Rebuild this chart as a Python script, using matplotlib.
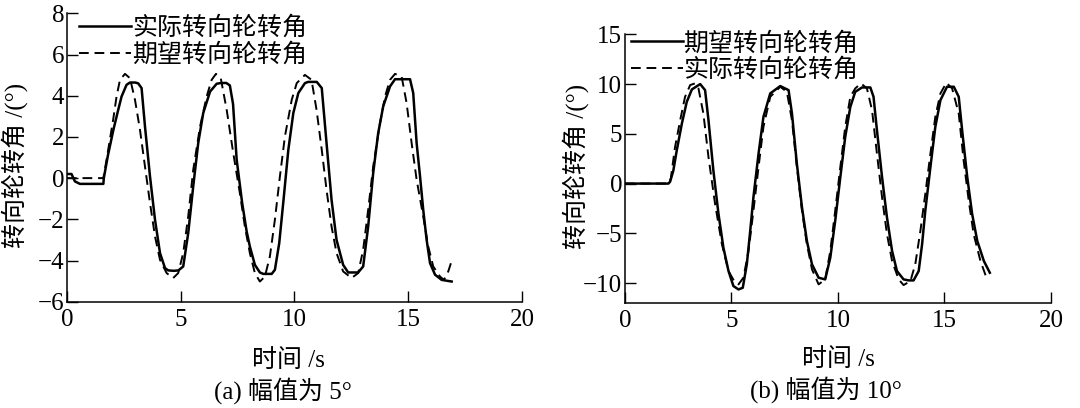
"""
Steering wheel angle tracking: actual vs desired, amplitude 5 deg and 10 deg.
"""

import matplotlib
matplotlib.use("Agg")
import matplotlib.pyplot as plt

plt.rcParams['font.family'] = ['Liberation Serif', 'Noto Sans CJK SC']
plt.rcParams['axes.unicode_minus'] = True

# ---- (a) amplitude 5 deg ----
t_a_actual = [0, 0.2, 0.35, 0.57, 1.0, 1.6, 1.62, 1.8, 2.04, 2.25, 2.4, 2.62, 2.77, 3.0, 3.13,
              3.28, 3.43, 3.65, 3.87, 4.09, 4.31, 4.45, 4.7, 4.9, 5.11, 5.33, 5.55, 5.77, 5.99,
              6.29, 6.58, 6.73, 7.0, 7.16, 7.3, 7.46, 7.7, 7.9, 8.04, 8.26, 8.48, 8.63, 9.0,
              9.14, 9.33, 9.52, 9.73, 9.95, 10.17, 10.46, 10.6, 10.98, 11.2, 11.41, 11.63,
              11.85, 12.14, 12.36, 12.8, 13.02, 13.24, 13.46, 13.68, 13.9, 14.2, 14.42, 15.08,
              15.22, 15.37, 15.52, 15.66, 15.81, 15.96, 16.18, 16.47, 16.91]
y_a_actual = [0.2, 0.2, -0.16, -0.28, -0.28, -0.28, 0.0, 1.1, 2.34, 3.3, 3.96, 4.53, 4.64, 4.64,
              4.6, 4.37, 2.5, 0.08, -2.02, -3.64, -4.37, -4.48, -4.5, -4.48, -4.29, -2.67, -0.4,
              1.7, 3.16, 4.2, 4.58, 4.61, 4.62, 4.5, 3.6, 0.89, -1.2, -2.6, -3.32, -4.21, -4.58,
              -4.65, -4.65, -4.45, -3.16, -1.05, 1.37, 3.16, 4.13, 4.61, 4.67, 4.67, 4.37, 1.7,
              -1.05, -3.0, -4.21, -4.58, -4.58, -4.29, -2.35, 0.24, 2.18, 3.48, 4.45, 4.8, 4.8,
              4.13, 1.7, 0.08, -1.54, -3.0, -4.13, -4.69, -4.94, -5.02]

t_a_desired = [0, 1.6, 1.74, 2.03, 2.18, 2.33, 2.55, 2.77, 2.99, 3.21, 3.43, 3.65, 3.87, 4.09,
               4.38, 4.67, 4.89, 5.11, 5.33, 5.55, 5.85, 6.14, 6.36, 6.55, 6.76, 7.02, 7.31,
               7.6, 7.82, 8.04, 8.26, 8.48, 8.7, 8.92, 9.14, 9.36, 9.58, 9.88, 10.1, 10.46,
               10.75, 10.97, 11.2, 11.41, 11.63, 11.85, 12.14, 12.51, 12.8, 13.02, 13.24, 13.46,
               13.76, 13.98, 14.2, 14.42, 14.71, 14.93, 15.15, 15.37, 15.66, 15.88, 16.1, 16.4,
               16.57, 16.76, 16.95]
y_a_desired = [0, 0, 0.89, 2.83, 3.96, 4.77, 5.06, 4.85, 3.8, 2.34, 0.56, -1.21, -2.83, -3.97,
               -4.61, -4.85, -4.61, -3.64, -1.86, 0.4, 2.5, 3.96, 4.77, 5.06, 4.85, 3.32, 1.21,
               -0.73, -2.35, -3.64, -4.61, -5.02, -4.78, -3.8, -2.02, 0.08, 2.02, 3.8, 4.61,
               5.01, 4.77, 3.32, 1.37, -0.57, -2.35, -3.64, -4.53, -4.85, -4.61, -3.48, -1.54,
               0.56, 2.67, 3.96, 4.77, 5.06, 4.93, 3.64, 1.7, -0.08, -1.86, -3.32, -4.29, -4.78,
               -4.94, -4.53, -3.88]

# ---- (b) amplitude 10 deg ----
t_b_desired = [0, 2.04, 2.12, 2.27, 2.43, 2.67, 2.9, 3.14, 3.53, 3.76, 3.92, 4.15, 4.39, 4.62,
               4.86, 5.09, 5.33, 5.53, 5.72, 5.88, 6.03, 6.27, 6.5, 6.82, 7.29, 7.68, 7.84, 8.07,
               8.31, 8.54, 8.78, 9.09, 9.4, 9.64, 9.87, 10.11, 10.34, 10.58, 10.81, 11.13, 11.52,
               11.67, 11.83, 12.07, 12.3, 12.54, 12.77, 13.08, 13.32, 13.55, 13.79, 13.95, 14.1,
               14.34, 14.57, 14.81, 15.12, 15.44, 15.67, 15.83, 16.07, 16.3, 16.54, 16.85, 17.13]
y_b_desired = [0, 0, 0.2, 1.31, 3.33, 6.03, 8.21, 9.46, 10.0, 9.39, 6.36, 1.31, -3.06, -6.43,
               -8.79, -10.3, -10.64, -10.47, -8.11, -4.75, -1.38, 3.0, 6.7, 9.06, 9.8, 9.39, 7.04,
               1.99, -2.39, -5.76, -8.11, -9.46, -9.63, -7.44, -3.74, 0.64, 4.68, 7.71, 9.22,
               9.66, 9.66, 8.72, 5.35, 0.64, -3.4, -6.77, -8.79, -9.63, -9.73, -9.73, -8.79,
               -6.09, -2.73, 1.65, 5.69, 8.38, 9.73, 9.73, 8.72, 5.35, 0.64, -3.06, -5.76, -7.78,
               -8.96]

t_b_actual = [0, 2.04, 2.15, 2.35, 2.59, 2.82, 3.06, 3.29, 3.45, 3.68, 3.92, 4.23, 4.55, 4.86,
              5.17, 5.33, 5.56, 5.8, 6.03, 6.27, 6.5, 6.82, 7.29, 7.6, 7.84, 8.07, 8.31, 8.54,
              8.78, 9.09, 9.4, 9.64, 9.87, 10.11, 10.34, 10.58, 10.81, 11.08, 11.36, 11.6, 11.83,
              12.07, 12.3, 12.54, 12.85, 13.08, 13.4, 13.63, 13.87, 14.1, 14.34, 14.57, 14.81,
              15.09, 15.36, 15.67, 15.9, 16.14, 16.37, 16.69, 17.0]
y_b_actual = [0, 0, 0.5, 3.67, 6.36, 8.72, 9.9, 10.07, 9.56, 7.04, 2.66, -2.05, -6.09, -8.79,
              -9.97, -10.13, -9.46, -6.77, -2.73, 1.65, 5.69, 8.72, 9.73, 9.22, 6.36, 1.65, -2.73,
              -6.09, -8.62, -10.13, -9.63, -6.77, -2.73, 1.65, 5.69, 8.72, 9.56, 10.07, 9.56,
              7.37, 3.0, -1.38, -5.08, -7.78, -9.63, -10.2, -9.8, -8.11, -4.75, -1.04, 3.0, 6.7,
              9.06, 10.13, 9.56, 7.04, 2.32, -1.72, -5.08, -7.78, -9.63]

x_ticks = [0, 5, 10, 15, 20]
y_ticks_a = [-6, -4, -2, 0, 2, 4, 6, 8]
y_ticks_b = [-10, -5, 0, 5, 10, 15]

label_actual = '实际转向轮转角'
label_desired = '期望转向轮转角'
x_label = '时间 /s'
y_label = '转向轮转角 /(°)'
caption_a = '(a) 幅值为 5°'
caption_b = '(b) 幅值为 10°'

TICK_FS = 18
TEXT_FS = 18
DASH = (0, (5, 3))


def style_axes(ax, ylim, yticks):
    ax.set_xlim(0, 20)
    ax.set_ylim(*ylim)
    ax.set_xticks(x_ticks)
    ax.set_yticks(yticks)
    for side in ('top', 'right'):
        ax.spines[side].set_visible(False)
    for side in ('left', 'bottom'):
        ax.spines[side].set_linewidth(1.1)
    ax.tick_params(direction='in', length=8, width=1.0, labelsize=TICK_FS)
    ax.tick_params(axis='x', pad=5)
    ax.tick_params(axis='y', pad=2)
    ax.patch.set_alpha(0)


def add_legend(ax, handles, labels, anchor):
    ax.legend(handles, labels, loc='upper left', bbox_to_anchor=anchor,
              frameon=False, fontsize=TEXT_FS, handlelength=2.1,
              handletextpad=0.02, labelspacing=0.12,
              borderpad=0, borderaxespad=0)


fig = plt.figure(figsize=(10.8, 4.08), dpi=100)

# left panel
ax1 = fig.add_axes([0.0620, 0.2605, 0.4213, 0.7069])
l1, = ax1.plot(t_a_actual, y_a_actual, color='black', lw=1.8, solid_joinstyle='round')
l2, = ax1.plot(t_a_desired, y_a_desired, color='black', lw=1.4, linestyle=DASH)
style_axes(ax1, (-6, 8), y_ticks_a)
add_legend(ax1, [l1, l2], [label_actual, label_desired], (0.026, 0.99))
ax1.set_xlabel(x_label, fontsize=TEXT_FS, va='center')
ax1.xaxis.set_label_coords(0.486, -0.205)
ax1.set_ylabel(y_label, fontsize=TEXT_FS, va='center')
ax1.yaxis.set_label_coords(-0.114, 0.474)
fig.text(0.262, 0.042, caption_a, fontsize=TEXT_FS, ha='center', va='center')

# right panel
ax2 = fig.add_axes([0.5787, 0.2574, 0.3944, 0.6585])
r1, = ax2.plot(t_b_desired, y_b_desired, color='black', lw=1.8, solid_joinstyle='round')
r2, = ax2.plot(t_b_actual, y_b_actual, color='black', lw=1.4, linestyle=DASH)
style_axes(ax2, (-12, 15), y_ticks_b)
add_legend(ax2, [r1, r2], [label_desired, label_actual], (0.013, 1.01))
ax2.set_xlabel(x_label, fontsize=TEXT_FS, va='center')
ax2.xaxis.set_label_coords(0.5, -0.21)
ax2.set_ylabel(y_label, fontsize=TEXT_FS, va='center')
ax2.yaxis.set_label_coords(-0.117, 0.51)
fig.text(0.765, 0.045, caption_b, fontsize=TEXT_FS, ha='center', va='center')

fig.savefig('out.png', dpi=100)
